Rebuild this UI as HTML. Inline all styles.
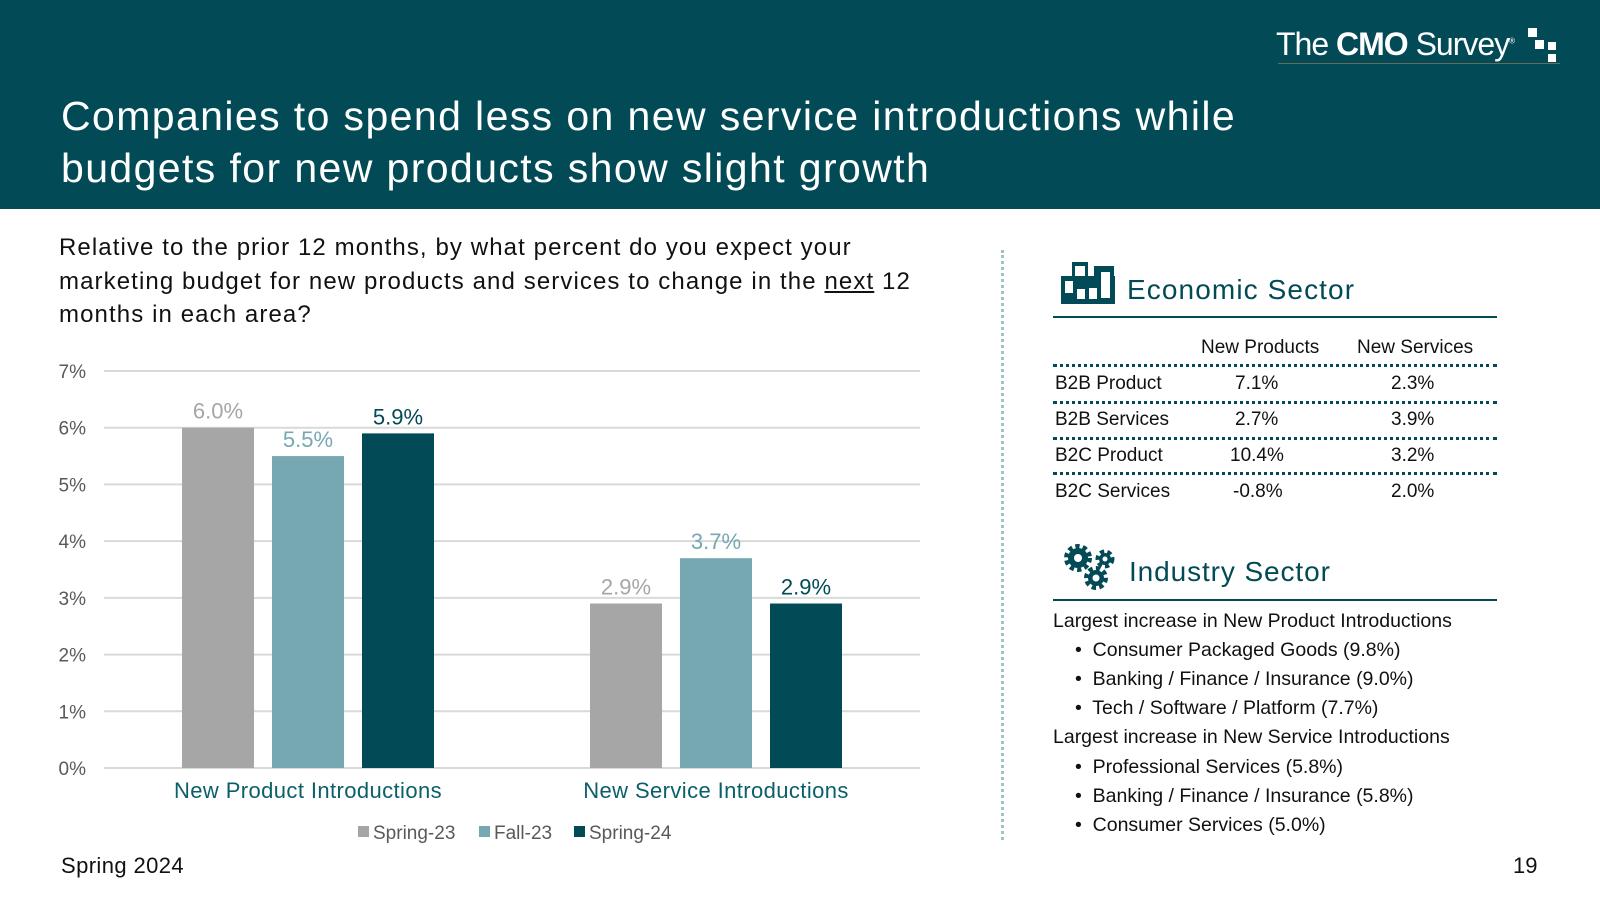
<!DOCTYPE html>
<html><head><meta charset="utf-8">
<style>
*{margin:0;padding:0;box-sizing:border-box}
body{width:1600px;height:900px;background:#fff;font-family:"Liberation Sans",Arial,sans-serif;position:relative;overflow:hidden;color:#111}
.abs{position:absolute;white-space:nowrap}
#header{position:absolute;left:0;top:0;width:1600px;height:209px;background:#024b56}
.tbl{font-size:19px;color:#111}
.dl{position:absolute;left:1053px;width:444px;border-top:3px dotted #024b56}
.ind{font-size:19.5px;color:#111}
</style></head><body>
<div id="header"></div>
<div class="abs" style="left:1276px;top:26px;font-size:32px;color:#fff;letter-spacing:-1px"><span style="font-weight:300">The </span><b>CMO</b><span style="font-weight:300"> Survey</span><sup style="font-size:8px">®</sup></div>
<div>
<div class="abs" style="left:1528px;top:28px;width:9px;height:9px;background:#fff"></div>
<div class="abs" style="left:1535px;top:40px;width:9px;height:9px;background:#fff"></div>
<div class="abs" style="left:1548px;top:42px;width:8px;height:8px;background:#fff"></div>
<div class="abs" style="left:1548px;top:54px;width:8px;height:8px;background:#fff"></div>
<div class="abs" style="left:1278px;top:63px;width:282px;height:1px;background:#6a6a5a"></div>
</div>
<div class="abs" style="left:61px;top:90px;font-size:41px;line-height:52px;color:#fff;letter-spacing:1.4px">Companies to spend less on new service introductions while<br>budgets for new products show slight growth</div>

<div class="abs" style="left:59px;top:231px;font-size:24px;line-height:33.5px;color:#111;letter-spacing:1.1px">Relative to the prior 12 months, by what percent do you expect your<br>marketing budget for new products and services to change in the <u>next</u> 12<br>months in each area?</div>

<svg id="chart" class="abs" style="left:0;top:0" width="960" height="860"></svg>

<div class="abs" style="left:1001px;top:250px;height:590px;border-left:3px dotted #9ec3c9"></div>

<svg class="abs" style="left:1061px;top:262px" width="54" height="42">
<g fill="#024b56"><rect x="0" y="14" width="54" height="28"/><rect x="11" y="0" width="16" height="20"/><rect x="33" y="4" width="20" height="20"/></g>
<g fill="#fff"><rect x="4" y="19" width="8" height="12"/><rect x="16" y="27" width="8" height="10"/><rect x="28" y="26" width="8" height="11"/><rect x="40" y="10" width="9" height="26"/><rect x="14" y="4" width="10" height="10"/></g>
</svg>
<div class="abs" style="left:1127px;top:274px;font-size:28px;color:#024b56;letter-spacing:1.1px">Economic Sector</div>
<div class="abs" style="left:1053px;top:316px;width:444px;height:2px;background:#024b56"></div>

<div class="abs tbl" style="left:1201px;top:337px">New Products</div>
<div class="abs tbl" style="left:1357px;top:337px">New Services</div>
<div class="dl" style="top:364px"></div><div class="dl" style="top:401px"></div><div class="dl" style="top:437px"></div><div class="dl" style="top:472px"></div>
<div>
<div class="abs tbl" style="left:1055px;top:373px">B2B Product</div><div class="abs tbl" style="left:1235px;top:373px">7.1%</div><div class="abs tbl" style="left:1391px;top:373px">2.3%</div>
<div class="abs tbl" style="left:1055px;top:409px">B2B Services</div><div class="abs tbl" style="left:1235px;top:409px">2.7%</div><div class="abs tbl" style="left:1391px;top:409px">3.9%</div>
<div class="abs tbl" style="left:1055px;top:445px">B2C Product</div><div class="abs tbl" style="left:1230px;top:445px">10.4%</div><div class="abs tbl" style="left:1391px;top:445px">3.2%</div>
<div class="abs tbl" style="left:1055px;top:481px">B2C Services</div><div class="abs tbl" style="left:1233px;top:481px">-0.8%</div><div class="abs tbl" style="left:1391px;top:481px">2.0%</div>
</div>

<svg class="abs" style="left:1063px;top:543px" width="56" height="50">
<g fill="#024b56" stroke="#024b56" stroke-width="5" stroke-dasharray="4 3"><circle cx="15" cy="15" r="11" fill="none" stroke-width="6"/><circle cx="42" cy="16" r="7" fill="none" stroke-width="5"/><circle cx="33" cy="35" r="9" fill="none" stroke-width="6"/></g>
<g fill="#024b56"><circle cx="15" cy="15" r="10"/><circle cx="42" cy="16" r="6"/><circle cx="33" cy="35" r="8"/></g>
<g fill="#fff"><circle cx="15" cy="15" r="4"/><circle cx="42" cy="16" r="2.5"/><circle cx="33" cy="35" r="3.5"/></g>
</svg>
<div class="abs" style="left:1129px;top:556px;font-size:28px;color:#024b56;letter-spacing:0.9px">Industry Sector</div>
<div class="abs" style="left:1053px;top:599px;width:444px;height:2px;background:#024b56"></div>
<div>
<div class="abs ind" style="left:1053px;top:610px">Largest increase in New Product Introductions</div>
<div class="abs ind" style="left:1075px;top:639px">•&nbsp; Consumer Packaged Goods (9.8%)</div>
<div class="abs ind" style="left:1075px;top:668px">•&nbsp; Banking / Finance / Insurance (9.0%)</div>
<div class="abs ind" style="left:1075px;top:697px">•&nbsp; Tech / Software / Platform (7.7%)</div>
<div class="abs ind" style="left:1053px;top:726px">Largest increase in New Service Introductions</div>
<div class="abs ind" style="left:1075px;top:756px">•&nbsp; Professional Services (5.8%)</div>
<div class="abs ind" style="left:1075px;top:785px">•&nbsp; Banking / Finance / Insurance (5.8%)</div>
<div class="abs ind" style="left:1075px;top:814px">•&nbsp; Consumer Services (5.0%)</div>
</div>

<div class="abs" style="left:61px;top:853px;font-size:22px;letter-spacing:0.4px">Spring 2024</div>
<div class="abs" style="left:1513px;top:853px;font-size:22px">19</div>

<script>
const categories=["New Product Introductions","New Service Introductions"];
const seriesNames=["Spring-23","Fall-23","Spring-24"];
const spring23=[6.0,2.9];
const fall23=[5.5,3.7];
const spring24=[5.9,2.9];
const yTicks=[0,1,2,3,4,5,6,7];
const colors=["#a6a6a6","#76a8b2","#024b56"];
const series=[spring23,fall23,spring24];
const NS="http://www.w3.org/2000/svg";
const svg=document.getElementById('chart');
const x0=104,x1=920,y0=768,yTop=371,yMax=7;
const y=v=>y0-(v/yMax)*(y0-yTop);
const band=(x1-x0)/categories.length;
const bw=72,step=90;
function mk(t,a){const e=document.createElementNS(NS,t);for(const k in a)e.setAttribute(k,a[k]);svg.appendChild(e);return e;}
yTicks.forEach(t=>{
 const l=mk('line',{x1:x0,x2:x1,y1:y(t),y2:y(t),stroke:'#d9d9d9','stroke-width':2});
 
 
 const tx=mk('text',{x:86,y:y(t)+7,'text-anchor':'end','font-size':19,fill:'#595959','font-family':'Liberation Sans'});
 tx.textContent=t+'%';
 
 
});
categories.forEach((c,i)=>{
 const cx=x0+band*(i+0.5);
 series.forEach((s,j)=>{
  const bx=cx+(j-1)*step-bw/2;
  const r=mk('rect',{x:bx,y:y(s[i]),width:bw,height:y0-y(s[i]),fill:colors[j]});
  
  
  const t=mk('text',{x:bx+bw/2,y:y(s[i])-9,'text-anchor':'middle','font-size':22,fill:j==2?'#024b56':colors[j],'font-family':'Liberation Sans'});
  t.textContent=s[i].toFixed(1)+'%';
  
  
 });
 const ct=mk('text',{x:cx,y:798,'text-anchor':'middle','font-size':22,fill:'#0a5f6b','font-family':'Liberation Sans','letter-spacing':0.4});
 ct.textContent=c;
 
 
});
let lx=358;
seriesNames.forEach((n,j)=>{
 const r=mk('rect',{x:lx,y:826,width:11,height:11,fill:colors[j]});
 
 
 const t=mk('text',{x:lx+15,y:839,'font-size':19,fill:'#595959','font-family':'Liberation Sans'});
 t.textContent=n;
 
 
 lx+=j==0?121:95;
});
</script>
</body></html>
